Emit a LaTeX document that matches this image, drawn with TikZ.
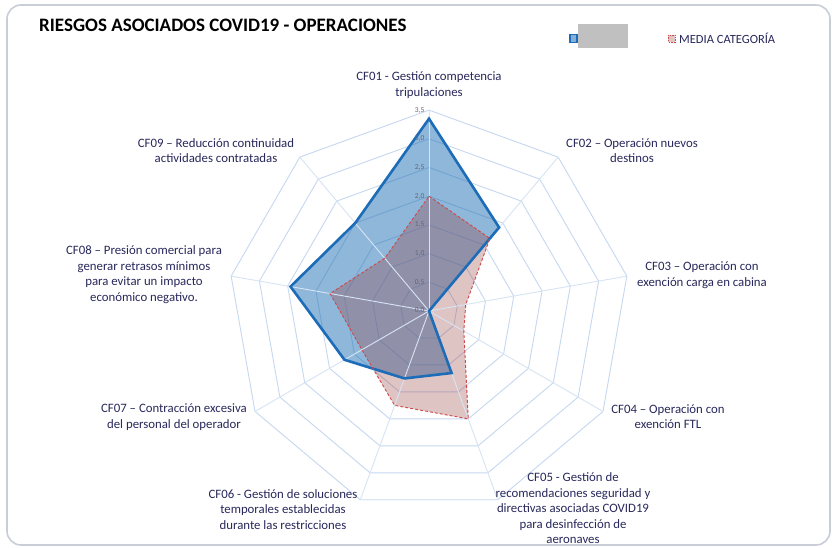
\documentclass[tikz,border=0pt]{standalone}
\usepackage{fontspec}
\setmainfont{Carlito}
\usetikzlibrary{calc}
\definecolor{gridc}{RGB}{198,216,240}
\definecolor{txtc}{RGB}{40,40,92}
\definecolor{serB}{RGB}{28,108,184}
\definecolor{serBfill}{RGB}{31,112,180}
\definecolor{serR}{RGB}{208,72,72}
\definecolor{serRfill}{RGB}{150,60,60}
\definecolor{framec}{RGB}{200,205,215}
\definecolor{axlab}{RGB}{100,100,120}
\tikzset{
  ring/.style={draw=gridc, line width=0.9pt},
  spoke/.style={draw=gridc, line width=0.9pt},
  catlabel/.style={align=center, text=txtc, font=\fontsize{12.8}{15.5}\selectfont, inner sep=0pt},
  numlabel/.style={anchor=east, text=axlab, font=\fontsize{7.5}{8}\selectfont, inner sep=0.5pt},
  serieslineB/.style={draw=serB, line width=2.6pt, line join=miter},
  serieslineR/.style={draw=serR, line width=0.9pt, dash pattern=on 3pt off 2pt},
}
\begin{document}
\begin{tikzpicture}[x=1pt,y=-1pt]
\useasboundingbox (0,0) rectangle (832,548);
\fill[white] (0,0) rectangle (832,548);
% frame
\draw[draw=framec, line width=1.6pt, rounded corners=14pt] (7,5) rectangle (830,545);

% title
\node[anchor=west, inner sep=0pt, font=\bfseries\fontsize{19}{22}\selectfont] (title) at (39,25) {RIESGOS ASOCIADOS COVID19 - OPERACIONES};

% legend
\draw[draw=serB, fill=serBfill!55!white, line width=1.6pt] (570,34.5) rectangle (577,42.5);
\fill[fill={rgb,255:red,192;green,192;blue,192}] (578,24) rectangle (628,48);
\draw[draw=serR, fill=serRfill!30!white, line width=0.7pt, dash pattern=on 1.5pt off 1pt] (668,35) rectangle (675,42);
\node[anchor=west, inner sep=0pt, text=txtc, font=\fontsize{12.5}{14}\selectfont] (legtext) at (679,38.5) {MEDIA CATEGORÍA};

\begin{scope}[shift={(429,311)}, x=1pt, y=1pt]
  % rings
  \foreach \i in {1,...,7}{
    \draw[ring] (90:{\i*28.7}) \foreach \k in {1,...,8}{ -- ({90-40*\k}:{\i*28.7}) } -- cycle;
  }
  % data coordinates
  \foreach \v [count=\k from 0] in {3.35,1.9,0,0,1.15,1.25,1.7,2.45,2.0}{
    \coordinate (b\k) at ({90-40*\k}:{\v*57.4});
  }
  \foreach \v [count=\k from 0] in {2.0,1.65,0.65,0.7,2.0,1.75,1.35,1.75,1.2}{
    \coordinate (r\k) at ({90-40*\k}:{\v*57.4});
  }
  \coordinate (ctr) at (0,0);
  % fills
  \fill[serBfill, fill opacity=0.5] (b0) -- (b1) -- (b2) -- (b3) -- (b4) -- (b5) -- (b6) -- (b7) -- (b8) -- cycle;
  \fill[serRfill, fill opacity=0.3] (r0) -- (r1) -- (r2) -- (r3) -- (r4) -- (r5) -- (r6) -- (r7) -- (r8) -- cycle;
  % spokes
  \foreach \k in {0,...,8}{
    \coordinate (o\k) at ({90-40*\k}:{7*28.7});
    \draw[spoke, draw=gridc!70!white] (ctr) -- (o\k);
  }
  % series lines
  \draw[serieslineB] (b0) -- (b1) -- (b2) -- (b3) -- (b4) -- (b5) -- (b6) -- (b7) -- (b8) -- cycle;
  \draw[serieslineR] (r0) -- (r1) -- (r2) -- (r3) -- (r4) -- (r5) -- (r6) -- (r7) -- (r8) -- cycle;
  % axis numbers
  \node[numlabel] (n0) at (-4,0) {0,0};
  \node[numlabel] (n1) at (-4,28.7) {0,5};
  \node[numlabel] (n2) at (-4,57.4) {1,0};
  \node[numlabel] (n3) at (-4,86.1) {1,5};
  \node[numlabel] (n4) at (-4,114.8) {2,0};
  \node[numlabel] (n5) at (-4,143.5) {2,5};
  \node[numlabel] (n6) at (-4,172.2) {3,0};
  \node[numlabel] (n7) at (-4,200.9) {3,5};
\end{scope}

% category labels
\node[catlabel] (cf01) at (429,85) {CF01 - Gestión competencia\\tripulaciones};
\node[catlabel] (cf02) at (632,150.5) {CF02 – Operación nuevos\\destinos};
\node[catlabel] (cf03) at (702,275) {CF03 – Operación con\\exención carga en cabina};
\node[catlabel] (cf04) at (668,416.5) {CF04 – Operación con\\exención FTL};
\node[catlabel] (cf05) at (573,508.5) {CF05 - Gestión de\\recomendaciones seguridad y\\directivas asociadas COVID19\\para desinfección de\\aeronaves};
\node[catlabel] (cf06) at (283,509.5) {CF06 - Gestión de soluciones\\temporales establecidas\\durante las restricciones};
\node[catlabel] (cf07) at (174,417) {CF07 – Contracción excesiva\\del personal del operador};
\node[catlabel] (cf08) at (144,274.5) {CF08 – Presión comercial para\\generar retrasos mínimos\\para evitar un impacto\\económico negativo.};
\node[catlabel] (cf09) at (216,150.5) {CF09 – Reducción continuidad\\actividades contratadas};
\end{tikzpicture}
\end{document}
